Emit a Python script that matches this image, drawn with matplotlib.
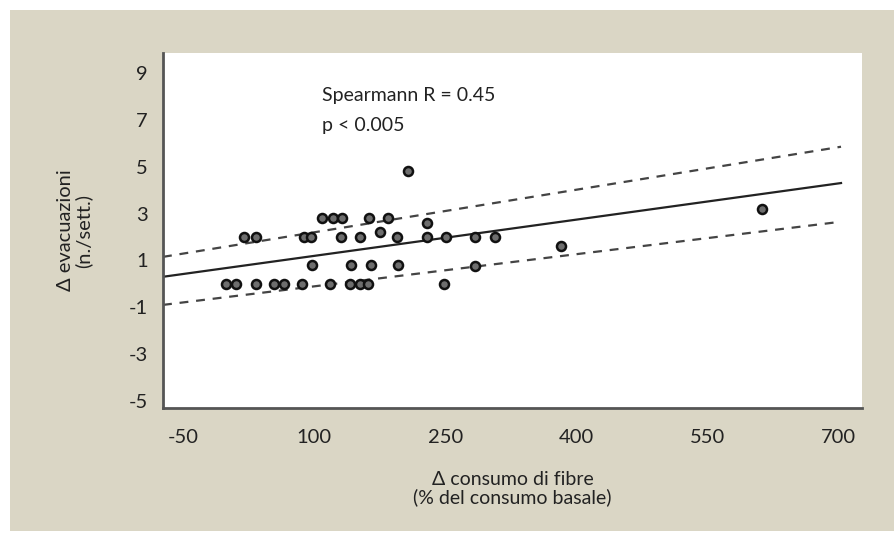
import matplotlib.pyplot as plt
from matplotlib.patches import Rectangle

plt.rcParams['font.family'] = ['Lato', 'DejaVu Sans']
plt.rcParams['axes.unicode_minus'] = False

# punti (x = delta consumo fibre %, y = delta evacuazioni)
fibre = [-1, 11, 34, 54, 65, 86, 118, 141, 152, 162, 249,
         98, 142, 165, 196, 284,
         20, 34, 88, 96, 131, 152, 175, 195, 229, 251, 284, 307,
         109, 121, 132, 163, 185, 229,
         207, 383, 613]
evac = [0, 0, 0, 0, 0, 0, 0, 0, 0, 0, 0,
        0.8, 0.8, 0.8, 0.8, 0.75,
        2, 2, 2, 2, 2, 2, 2.2, 2, 2, 2, 2, 2,
        2.8, 2.8, 2.8, 2.8, 2.8, 2.6,
        4.8, 1.6, 3.2]

# retta di regressione e limiti (estremi)
line_x = [-73, 703]
fit_y = [0.3, 4.3]
upper_y = [1.15, 5.85]
lower_y = [-0.9, 2.65]

xticks = [-50, 100, 250, 400, 550, 700]
yticks = [9, 7, 5, 3, 1, -1, -3, -5]

fig = plt.figure(figsize=(8.95, 5.37), dpi=100)
fig.patch.set_facecolor('white')
bg = Rectangle((10 / 895, 6 / 537), 1, 521 / 537, transform=fig.transFigure,
               facecolor='#dad6c5', edgecolor='none', zorder=-1)
fig.add_artist(bg)

ax = fig.add_axes([163 / 895, 1 - 408 / 537, 699 / 895, 355 / 537])
ax.set_zorder(1)
ax.set_facecolor('white')

ax.plot(line_x, fit_y, color='#222222', lw=1.6)
ax.plot(line_x, upper_y, color='#444444', lw=1.6, ls=(0, (4, 3.5)))
ax.plot(line_x, lower_y, color='#444444', lw=1.6, ls=(0, (4, 3.5)))
ax.plot(fibre, evac, 'o', ms=6.5, mfc='#6e6e6e', mec='#111111', mew=1.8, zorder=3)

ax.set_xlim(-73, 727)
ax.set_ylim(-5.3, 9.85)
ax.set_xticks(xticks)
ax.set_yticks(yticks)
ax.tick_params(length=0, labelsize=14.5, colors='#222222')
ax.tick_params(axis='x', pad=15)
ax.tick_params(axis='y', pad=11)

for s in ['top', 'right']:
    ax.spines[s].set_visible(False)
for s in ['left', 'bottom']:
    ax.spines[s].set_color('#555555')
    ax.spines[s].set_linewidth(2)

ax.set_xlabel('Δ consumo di fibre\n(% del consumo basale)', fontsize=14,
              labelpad=18, linespacing=1.05, color='#222222')
ax.set_ylabel('Δ evacuazioni\n(n./sett.)', fontsize=14.5, labelpad=26,
              linespacing=1.05, color='#222222')

ax.text(109, 8.05, 'Spearmann R = 0.45', fontsize=14, va='center', color='#222222')
ax.text(109, 6.75, 'p < 0.005', fontsize=14, va='center', color='#222222')

fig.savefig('out.png', dpi=100)
